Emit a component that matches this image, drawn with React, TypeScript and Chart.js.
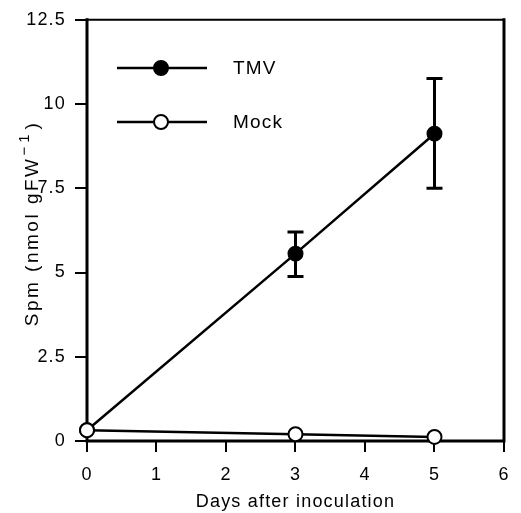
import React, { useEffect, useRef } from "react";
import { Chart, registerables } from "chart.js";

Chart.register(...registerables);

const days = [0, 3, 5];
const tmvMean = [0.32, 5.56, 9.12];
const tmvHigh = [0.32, 6.2, 10.76];
const tmvLow = [0.32, 4.88, 7.5];
const mockMean = [0.32, 0.2, 0.12];
const seriesNames = ["TMV", "Mock"];
const xTitle = "Days after inoculation";
const yTitleMain = "Spm (nmol gFW";
const yTitleSup = "\u22121";
const yTitleEnd = ")";

const FONT = "'Liberation Sans', Arial, sans-serif";

export default function App() {
  const ref = useRef<HTMLCanvasElement | null>(null);

  useEffect(() => {
    document.body.style.margin = "0";
    const canvas = ref.current;
    if (!canvas) return;

    const spacingPlugin = {
      id: "spacing",
      beforeDraw(chart: any) {
        try {
          chart.ctx.letterSpacing = "1.2px";
        } catch (e) {}
      },
    };

    const framePlugin = {
      id: "frame",
      beforeDatasetsDraw(chart: any) {
        const { ctx, chartArea: a } = chart;
        ctx.save();
        ctx.strokeStyle = "#000";
        ctx.lineCap = "square";
        ctx.lineWidth = 3;
        ctx.beginPath();
        ctx.moveTo(a.left, a.top);
        ctx.lineTo(a.left, a.bottom);
        ctx.lineTo(a.right, a.bottom);
        ctx.lineTo(a.right, a.top);
        ctx.stroke();
        ctx.lineWidth = 2;
        ctx.beginPath();
        ctx.moveTo(a.left, a.top);
        ctx.lineTo(a.right, a.top);
        ctx.stroke();
        ctx.restore();
      },
    };

    const errorPlugin = {
      id: "errorbars",
      beforeDatasetsDraw(chart: any) {
        const { ctx, scales } = chart;
        const xs = scales.x;
        const ys = scales.y;
        ctx.save();
        ctx.strokeStyle = "#000";
        ctx.lineWidth = 3;
        days.forEach((d, i) => {
          if (tmvHigh[i] === tmvLow[i]) return;
          const x = xs.getPixelForValue(d);
          const yh = ys.getPixelForValue(tmvHigh[i]);
          const yl = ys.getPixelForValue(tmvLow[i]);
          ctx.beginPath();
          ctx.moveTo(x, yh);
          ctx.lineTo(x, yl);
          ctx.moveTo(x - 8, yh);
          ctx.lineTo(x + 8, yh);
          ctx.moveTo(x - 8, yl);
          ctx.lineTo(x + 8, yl);
          ctx.stroke();
        });
        ctx.restore();
      },
    };

    const yTitlePlugin = {
      id: "yTitle",
      afterDraw(chart: any) {
        const { ctx, chartArea: a } = chart;
        const cy = (a.top + a.bottom) / 2 - 7;
        ctx.save();
        ctx.fillStyle = "#000";
        ctx.textBaseline = "alphabetic";
        ctx.textAlign = "left";
        const mainFont = `19px ${FONT}`;
        const supFont = `15px ${FONT}`;
        ctx.font = mainFont;
        ctx.letterSpacing = "2.5px";
        const w1 = ctx.measureText(yTitleMain).width;
        const w3 = ctx.measureText(yTitleEnd).width;
        ctx.font = supFont;
        ctx.letterSpacing = "4px";
        const w2 = ctx.measureText(yTitleSup).width;
        const total = w1 + w2 + w3 + 2;
        ctx.translate(38, cy);
        ctx.rotate(-Math.PI / 2);
        let x = -total / 2;
        ctx.font = mainFont;
        ctx.letterSpacing = "2.5px";
        ctx.fillText(yTitleMain, x, 0);
        x += w1 + 1;
        ctx.font = supFont;
        ctx.letterSpacing = "4px";
        ctx.fillText(yTitleSup, x, -9);
        x += w2 + 1;
        ctx.font = mainFont;
        ctx.letterSpacing = "2.5px";
        ctx.fillText(yTitleEnd, x, 0);
        ctx.restore();
      },
    };

    const legendPlugin = {
      id: "customLegend",
      afterDraw(chart: any) {
        const { ctx } = chart;
        const rows = [
          { name: seriesNames[0], y: 68, fill: "#000" },
          { name: seriesNames[1], y: 122, fill: "#fff" },
        ];
        ctx.save();
        rows.forEach((r) => {
          ctx.strokeStyle = "#000";
          ctx.lineWidth = 2.5;
          ctx.beginPath();
          ctx.moveTo(117, r.y);
          ctx.lineTo(207, r.y);
          ctx.stroke();
          ctx.beginPath();
          ctx.arc(161, r.y, 7, 0, Math.PI * 2);
          ctx.fillStyle = r.fill;
          ctx.fill();
          ctx.lineWidth = 2;
          ctx.stroke();
          ctx.fillStyle = "#000";
          ctx.font = `19px ${FONT}`;
          ctx.textBaseline = "middle";
          ctx.textAlign = "left";
          ctx.fillText(r.name, 233, r.y + 1);
        });
        ctx.restore();
      },
    };

    const chart = new Chart(canvas, {
      type: "line",
      data: {
        datasets: [
          {
            label: seriesNames[1],
            data: days.map((d, i) => ({ x: d, y: mockMean[i] })),
            borderColor: "#000",
            borderWidth: 2.5,
            pointRadius: 7,
            pointBorderWidth: 2,
            pointBackgroundColor: "#fff",
            pointBorderColor: "#000",
            order: 0,
            clip: false as any,
          },
          {
            label: seriesNames[0],
            data: days.map((d, i) => ({ x: d, y: tmvMean[i] })),
            borderColor: "#000",
            borderWidth: 2.5,
            pointRadius: 7,
            pointBorderWidth: 2,
            pointBackgroundColor: "#000",
            pointBorderColor: "#000",
            order: 1,
            clip: false as any,
          },
        ],
      },
      options: {
        responsive: false,
        animation: false,
        layout: { padding: { left: 0, right: 12, top: 16, bottom: 0 } },
        plugins: { legend: { display: false }, tooltip: { enabled: false } },
        scales: {
          x: {
            type: "linear",
            min: 0,
            max: 6,
            border: { display: false },
            grid: { drawOnChartArea: false, color: "#000", lineWidth: 2, tickLength: 11 },
            ticks: { stepSize: 1, color: "#000", padding: 12, font: { family: FONT, size: 18 } },
            title: {
              display: true,
              text: xTitle,
              color: "#000",
              font: { family: FONT, size: 18, lineHeight: 1 },
              padding: { top: 0, bottom: 2 },
            },
            afterFit(scale: any) {
              scale.height = 72;
            },
          },
          y: {
            type: "linear",
            min: 0,
            max: 12.5,
            border: { display: false },
            grid: { drawOnChartArea: false, color: "#000", lineWidth: 2, tickLength: 12 },
            ticks: { stepSize: 2.5, color: "#000", padding: 9, font: { family: FONT, size: 18 } },
            afterFit(scale: any) {
              scale.width = 87;
            },
          },
        },
      },
      plugins: [spacingPlugin, framePlugin, errorPlugin, yTitlePlugin, legendPlugin],
    });

    return () => chart.destroy();
  }, []);

  return (
    <div style={{ width: 521, height: 513, background: "#fff" }}>
      <canvas ref={ref} width={521} height={513} />
    </div>
  );
}
